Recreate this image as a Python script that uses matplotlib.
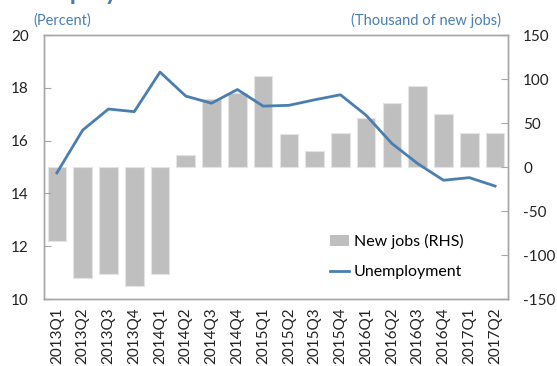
import numpy as np
import matplotlib.pyplot as plt
from matplotlib.patches import Patch
from matplotlib.lines import Line2D

plt.rcParams['font.family'] = ['Lato', 'DejaVu Sans']
plt.rcParams['axes.unicode_minus'] = False

quarters = ['2013Q1', '2013Q2', '2013Q3', '2013Q4', '2014Q1', '2014Q2', '2014Q3',
            '2014Q4', '2015Q1', '2015Q2', '2015Q3', '2015Q4', '2016Q1', '2016Q2',
            '2016Q3', '2016Q4', '2017Q1', '2017Q2']
new_jobs = [-84, -126, -122, -135, -122, 14, 77, 84, 103, 38, 18, 39, 56, 73,
            92, 60, 39, 39]
unemployment = [14.78, 16.4, 17.2, 17.1, 18.6, 17.69, 17.42, 17.94, 17.31, 17.34,
                17.55, 17.74, 16.96, 15.89, 15.13, 14.5, 14.6, 14.28]

blue = '#4a7eb0'
grey_bar = '#bfbfbf'
spine_c = '#a6a6a6'

fig = plt.figure(figsize=(5.57, 3.66), dpi=100)
ax = fig.add_axes([0.079, 0.183, 0.833, 0.721])
ax2 = ax.twinx()

x = np.arange(len(quarters))
ax2.bar(x, new_jobs, width=0.72, color=grey_bar, edgecolor='#e4e4e4', linewidth=0.8, zorder=1)
ax2.set_ylim(-150, 150)
ax2.set_yticks(range(-150, 151, 50))

ax.set_zorder(ax2.get_zorder() + 1)
ax.patch.set_visible(False)
ax.plot(x, unemployment, color=blue, lw=2, zorder=3)
ax.set_ylim(10, 20)
ax.set_yticks(range(10, 21, 2))
ax.set_xlim(-0.5, len(quarters) - 0.5)
ax.set_xticks(x)
ax.set_xticklabels(quarters, rotation=90, fontsize=11, color='#222222')

for a in (ax, ax2):
    for s in a.spines.values():
        s.set_color(spine_c)
        s.set_linewidth(1)
ax.tick_params(axis='y', direction='in', length=5, color=spine_c, labelsize=11,
               labelcolor='#222222', pad=11)
ax2.tick_params(axis='y', direction='in', length=5, color=spine_c, labelsize=11,
                labelcolor='#222222', pad=11)
ax.tick_params(axis='x', length=0, pad=6)

handles = [Patch(facecolor=grey_bar, edgecolor='none'),
           Line2D([0], [0], color=blue, lw=2)]
ax.legend(handles, ['New jobs (RHS)', 'Unemployment'], loc='lower right',
          bbox_to_anchor=(0.935, 0.02), frameon=False, fontsize=11.5,
          handlelength=1.2, handletextpad=0.3, labelspacing=1.0)

fig.text(0.06, 0.945, '(Percent)', color=blue, fontsize=10.5, ha='left', va='center')
fig.text(0.90, 0.945, '(Thousand of new jobs)', color=blue, fontsize=10.5, ha='right', va='center')
fig.text(0.005, 1.0, 'Unemployment', color=blue, fontsize=18, fontweight='bold',
         ha='left', va='baseline')

fig.savefig('out.png', dpi=100)
